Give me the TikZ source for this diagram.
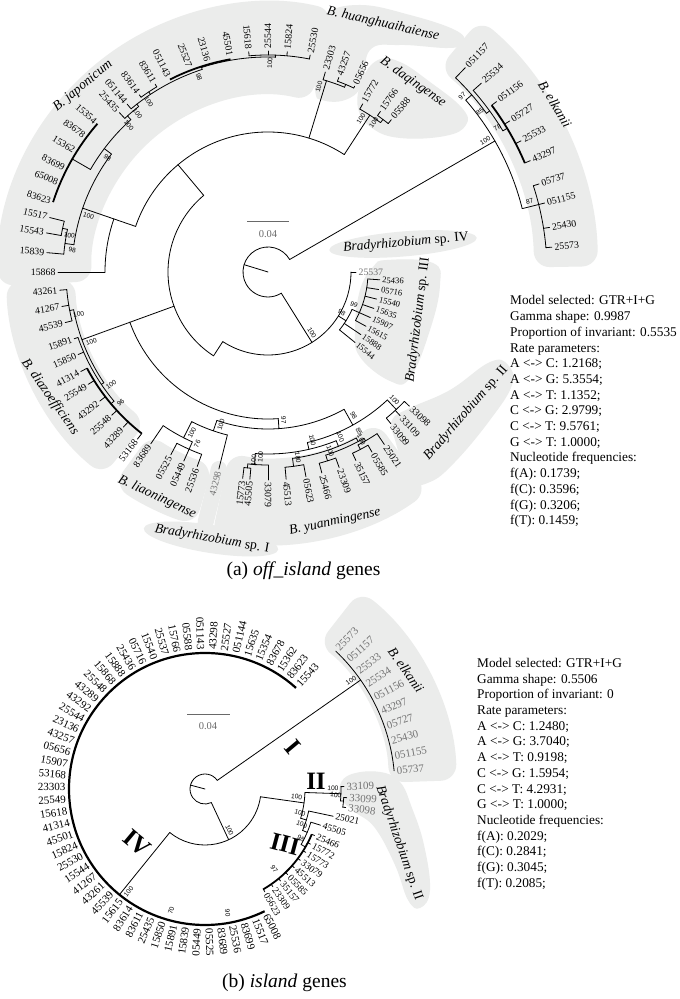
\documentclass[tikz,border=0pt]{standalone}
\usepackage{fontspec}
\setmainfont{Liberation Serif}
\newfontfamily\bootfont{Liberation Sans}
\definecolor{cladeGrey}{RGB}{235,236,235}
\definecolor{tipGrey}{RGB}{115,115,115}
\definecolor{barGrey}{RGB}{105,105,105}
\tikzset{
  branch/.style={line width=0.8pt, line cap=round},
  clump/.style={line width=1.8pt},
  trunk/.style={line width=2.2pt},
  leaf/.style={inner sep=0.4pt, font=\fontsize{9.8}{10}\selectfont},
  leafs/.style={leaf, font=\fontsize{8.6}{9}\selectfont},
  leafb/.style={leaf, font=\fontsize{11}{12}\selectfont},
  leafc/.style={leaf, font=\fontsize{9.6}{10}\selectfont},
  greyleaf/.style={leaf, text=tipGrey},
  greyleafb/.style={leafb, text=tipGrey},
  boot/.style={inner sep=0pt, font=\bootfont\fontsize{6.6}{7}\selectfont},
  clade/.style={inner sep=0pt, font=\fontsize{13.6}{14}\selectfont},
  roman/.style={inner sep=0pt, font=\fontsize{25}{25}\selectfont\bfseries},
  bubble/.style={fill=cladeGrey},
  neck/.style={draw=cladeGrey, line cap=round},
  scalebar/.style={draw=barGrey, line width=1pt},
  barlabel/.style={text=barGrey, inner sep=0pt, font=\fontsize{10.5}{11}\selectfont},
  info/.style={align=left, anchor=north west, inner sep=0pt, font=\fontsize{13.3}{15.7}\selectfont},
  caption/.style={anchor=base, inner sep=0pt, font=\fontsize{19.5}{20}\selectfont}
}
% radial branch, arc, tip label, leaf, bootstrap value, shaded band
\newcommand{\rad}[3]{\draw[branch] (#1:#2pt) -- (#1:#3pt);}
\newcommand{\arcr}[4][branch]{\draw[#1] (#2:#4pt) arc[start angle=#2, end angle=#3, radius=#4pt];}
\newcommand{\lab}[4][leaf]{%
  \pgfmathsetmacro\rr{#3+2}%
  \pgfmathtruncatemacro\flip{cos(#2)<0}%
  \ifnum\flip=1
    \node[#1, anchor=east, rotate=#2-180] (\pre#4) at (#2:\rr pt) {#4};%
  \else
    \node[#1, anchor=west, rotate=#2] (\pre#4) at (#2:\rr pt) {#4};%
  \fi}
\newcommand{\tip}[5][leaf]{\rad{#2}{#3}{#4}\lab[#1]{#2}{#4}{#5}}
\newcommand{\bs}[3]{%
  \pgfmathsetmacro\ba{#1+320/#2}%
  \pgfmathsetmacro\rr{#2-8}%
  \pgfmathtruncatemacro\flip{cos(#1)<0}%
  \pgfmathtruncatemacro\bn{#1}%
  \ifnum\flip=1
    \node[boot, rotate=#1-180] (\pre b\bn-#3) at (\ba:\rr pt) {#3};%
  \else
    \node[boot, rotate=#1] (\pre b\bn-#3) at (\ba:\rr pt) {#3};%
  \fi}
\newcommand{\band}[4]{\fill[bubble, rounded corners=16pt] (#1:#3pt) arc[start angle=#1, end angle=#2, radius=#3pt] -- (#2:#4pt) arc[start angle=#2, end angle=#1, radius=#4pt] -- cycle;}

\begin{document}
\begin{tikzpicture}[x=1pt, y=1pt]
\useasboundingbox (0,0) rectangle (680,999);
\fill[white] (0,0) rectangle (680,999);

% ---------- shading, tree (a)
\begin{scope}[shift={(268,727)}]
  \band{76}{183}{176}{270}
  \band{1}{50}{266}{330}
  \band{182}{231}{193}{262}
  \band{234}{254}{200}{263}
  \band{258}{306}{185}{272}
  \draw[neck, line width=16pt] (256:203pt) -- (256:258pt);
\end{scope}
\fill[bubble] plot[smooth cycle, tension=0.7] coordinates {(315,909) (313,954) (325,984) (360,994) (410,984) (455,969) (464,957) (450,951) (400,954) (370,949) (362,914) (345,899) (322,899)};
\fill[bubble] plot[smooth cycle, tension=0.7] coordinates {(358,891) (362,919) (378,939) (400,937) (430,917) (462,891) (466,874) (445,863) (400,861) (372,871)};
\fill[bubble] plot[smooth cycle, tension=0.7] coordinates {(373,732) (387,739) (433,736) (440,714) (430,669) (410,621) (390,618) (360,642) (355,669) (360,709)};
\fill[bubble] plot[smooth cycle, tension=0.7] coordinates {(395,559) (392,579) (410,591) (450,609) (490,637) (508,634) (512,614) (490,579) (455,537) (430,517) (410,519)};
\fill[bubble, rotate around={4.7:(403,755)}] (403,755) ellipse[x radius=74, y radius=12.5];
\fill[bubble, rotate around={-9:(211,460)}] (211,460) ellipse[x radius=68, y radius=14];

% ---------- shading, tree (b)
\begin{scope}[shift={(205,210)}]
  \band{2}{52}{184}{252}
\end{scope}
\fill[bubble] plot[smooth cycle, tension=0.7] coordinates {(340,214) (352,225) (380,227) (400,217) (412,191) (424,154) (430,109) (420,91) (408,99) (395,134) (375,171) (355,187) (342,199)};

% ---------- tree (a)
\begin{scope}[shift={(268,727)}]
\def\pre{a}
\rad{163}{0}{25}
\arcr{30}{302}{25}
% B. elkanii
\rad{30}{25}{262} \bs{30}{262}{100}
\arcr{14}{41}{262}
\rad{41}{262}{270} \bs{41}{270}{97}
\arcr{36}{46}{270}
\tip{46}{270}{284}{051157}
\rad{36}{270}{274} \bs{36}{274}{85}
\arcr{31}{41.5}{274}
\tip{41.5}{274}{285}{25534}
\rad{31}{274}{279} \bs{31}{279}{78}
\arcr[clump]{23}{36.7}{279}
\foreach \a/\t in {36.7/051156,32/05727,27.4/25533,23/43297}{\tip{\a}{279}{285}{\t}}
\rad{14}{262}{279} \bs{14}{279}{87}
\arcr{5}{18}{279}
\foreach \a/\t in {18/05737,14/051155,9/25430,5/25573}{\tip{\a}{279}{285}{\t}}
% sp. IV and sp. III
\rad{302}{25}{83} \bs{302}{83}{100}
\arcr{237}{360}{83}
\tip[greyleaf]{0}{83}{88}{25537}
\rad{328}{83}{92} \bs{328}{92}{98}
\arcr{321}{336}{92}
\tip[leafs]{321}{92}{112}{15544}
\tip[leafs]{326}{92}{112}{15888}
\rad{336}{92}{100} \bs{336}{100}{99}
\arcr{331}{356}{100}
\foreach \a/\t in {356/25436,351/05716,346/15540,341/15635,336/15907,331/15615}{\tip[leafs]{\a}{100}{112}{\t}}
% upper group
\rad{237}{83}{100}
\arcr{130}{237}{100}
\rad{130}{100}{140}
\arcr{57}{161}{140}
% B. daqingense
\rad{57}{140}{187} \bs{57}{187}{100}
\arcr{53}{60.6}{187}
\tip{60.6}{187}{193}{15772}
\rad{53}{187}{191} \bs{53}{191}{100}
\arcr{51}{55}{191}
\tip{55}{191}{196}{15766}
\tip{51}{191}{196}{05588}
% B. huanghuaihaiense
\rad{73}{140}{200} \bs{73}{200}{100}
\arcr{67.5}{74}{200}
\tip{74}{200}{208}{23303}
\rad{67.5}{200}{203}
\arcr{65}{70}{203}
\tip{70}{203}{207}{43257}
\tip{65}{203}{205}{05656}
% B. japonicum
\rad{161}{140}{163}
\arcr{161}{180}{163}
\tip{180}{163}{210}{15868}
\rad{161}{163}{196} \bs{161}{196}{100}
\arcr{143}{172}{196}
\rad{172}{196}{205} \bs{172}{205}{98}
\arcr{168}{175}{205}
\tip{175}{205}{222}{15839}
\rad{168}{205}{210} \bs{168}{210}{100}
\arcr{166}{170}{210}
\tip{166}{210}{225}{15517}
\tip{170}{210}{225}{15543}
\rad{143}{196}{205} \bs{143}{205}{98}
\arcr{132}{150}{205}
\rad{150}{205}{226}
\arcr[clump]{139}{162}{226}
\foreach \a/\t in {139/15354,143.5/83678,148/15362,153/83699,157/65008,162/83623}{\lab{\a}{226}{\t}}
\rad{132}{205}{210} \bs{132}{210}{100}
\arcr{128}{133}{210}
\tip{133}{210}{218}{25435}
\rad{128}{210}{213} \bs{128}{213}{100}
\arcr{108}{130}{213}
\tip{130}{213}{219}{051144}
\rad{123.5}{213}{216} \bs{123.5}{216}{100}
\arcr{121}{126}{216}
\tip{126}{216}{219}{83614}
\tip{121}{216}{219}{83611}
\rad{108}{213}{215} \bs{108}{215}{98}
\arcr{88}{108}{215}
\rad{108}{215}{216}
\arcr[clump]{100}{117}{216}
\foreach \a/\t in {117/051143,111/25527,106/23136,100/45501}{\lab{\a}{217}{\t}}
\rad{88}{215}{217} \bs{88}{217}{100}
\arcr{79}{95}{217}
\foreach \a/\t in {95/15618,90/25544,85/15824,79/25530}{\tip{\a}{217}{221}{\t}}
% lower group
\rad{200}{100}{147}
\arcr{200}{274}{147}
% B. diazoefficiens
\rad{200}{147}{198} \bs{200}{198}{100}
\arcr{191}{214}{198}
\rad{191}{198}{202} \bs{191}{202}{100}
\arcr{185}{194}{202}
\foreach \a/\t in {185/43261,189.5/41267,194/45539}{\tip{\a}{202}{209}{\t}}
\rad{214}{198}{201} \bs{214}{201}{100}
\arcr{199}{220}{201}
\tip{199}{201}{205}{15891}
\tip{203.5}{201}{207}{15850}
\rad{220}{201}{205} \bs{220}{205}{96}
\arcr[clump]{208}{232}{205}
\foreach \a/\t in {208/41314,212/25549,217.5/43292,222.5/25548,227/43289,232/53168}{\tip{\a}{205}{212}{\t}}
% B. liaoningense, sp. I, B. yuanmingense, sp. II
\rad{274}{147}{157} \bs{274}{157}{97}
\arcr{251}{299}{157}
\rad{251}{157}{168} \bs{251}{168}{100}
\arcr{243}{256}{168}
\rad{243}{168}{186} \bs{243}{186}{100}
\arcr{235.7}{246}{186}
\tip{235.7}{186}{208}{83689}
\rad{246}{186}{194} \bs{246}{194}{76}
\arcr{242}{250}{194}
\foreach \a/\t in {242/05525,246/05449,250/25536}{\tip{\a}{194}{207}{\t}}
\tip[greyleaf]{256}{168}{203}{43298}
\rad{299}{157}{175} \bs{299}{175}{98}
\arcr{283}{313}{175}
\rad{313}{175}{188} \bs{313}{188}{100}
\arcr{309}{316.5}{188}
\foreach \a/\t in {316.5/33098,312.6/33109,309/33099}{\tip{\a}{188}{195}{\t}}
\rad{283}{175}{182} \bs{283}{182}{100}
\arcr{266}{292}{182}
\rad{266}{182}{193} \bs{266}{193}{100}
\arcr{264}{270}{193}
\rad{264}{193}{197} \bs{264}{197}{100}
\arcr{263}{265}{197}
\tip{263}{197}{208}{15773}
\tip{265}{197}{208}{45505}
\tip{270}{193}{208}{33079}
\rad{292}{182}{188} \bs{292}{188}{100}
\arcr{277.5}{298}{188}
\rad{277.5}{188}{196} \bs{277.5}{196}{100}
\arcr{275}{280.5}{196}
\tip{275}{196}{208}{45513}
\tip{280.5}{196}{208}{05623}
\rad{298}{188}{192} \bs{298}{192}{85}
\arcr{287.5}{300}{192}
\rad{287.5}{192}{198} \bs{287.5}{198}{100}
\arcr{285}{290}{198}
\tip{285}{198}{208}{25466}
\tip{290}{198}{208}{23309}
\rad{300}{192}{195}
\arcr{297.5}{304}{195}
\rad{297.5}{195}{200} \bs{297.5}{200}{100}
\arcr{295}{300}{200}
\tip{295}{200}{208}{35157}
\tip{300}{200}{208}{05585}
\tip{304}{195}{208}{25021}
\end{scope}

% ---------- tree (b)
\begin{scope}[shift={(205,210)}]
\def\pre{b}
\rad{165}{0}{15}
\arcr{35}{295}{15}
% I
\rad{35}{15}{190} \bs{35}{190}{100}
\arcr{5.5}{46.5}{190}
\foreach \t [count=\i] in {25573,051157,25533,25534,051156,43297,05727,25430,051155,05737}{\pgfmathsetmacro\a{46.5-(\i-1)*4.56}\lab[greyleafb]{\a}{190}{\t}}
% IV
\rad{295}{15}{56} \bs{295}{56}{100}
\arcr{231}{352}{56}
\rad{231}{56}{136} \bs{231}{136}{100}
\arcr[trunk]{48}{296}{136}
\foreach \t [count=\i] in {15543,83623,15362,83678,15354,15635,051144,25527,43298,051143,05588,15766,25537,15540,05716,25436,15888,15868,25548,43289,43292,25544,23136,43257,05656,15907,53168,23303,25549,15618,41314,45501,15824,25530,15544,41267,43261,45539,15615,83614,83611,25435,15850,15891,15839,05449,05525,83689,25536,83699,15517,65008}{\pgfmathsetmacro\a{48+(\i-1)*4.863}\lab[leafb]{\a}{137}{\t}}
\bs{252}{134}{70}
\bs{278}{134}{90}
% II
\rad{352}{56}{100} \bs{352}{100}{100}
\arcr{343}{358}{100}
\rad{358}{100}{136} \bs{358}{136}{100}
\arcr{-5}{1}{136}
\tip[greyleafb]{1}{136}{139}{33109}
\rad{-5}{136}{139} \bs{-5}{139}{100}
\arcr{-7.5}{-3.5}{139}
\tip[greyleafb]{-3.5}{139}{142}{33099}
\tip[greyleafb]{-7.5}{139}{142}{33098}
% III
\rad{343}{100}{106} \bs{343}{106}{100}
\arcr{337}{348}{106}
\tip[leafc]{348}{106}{131}{25021}
\rad{337}{106}{111} \bs{337}{111}{100}
\arcr{330}{342.6}{111}
\tip[leafc]{342.6}{111}{121}{45505}
\rad{330}{111}{116} \bs{330}{116}{98}
\arcr[clump]{300}{337}{116}
\foreach \t [count=\i] in {25466,15772,15773,33079,45513,05585,35157,23309,05623}{\pgfmathsetmacro\a{337-(\i-1)*4.6}\tip[leafc]{\a}{116}{119}{\t}}
\bs{308}{114}{97}
\end{scope}

% ---------- scale bars
\draw[scalebar] (247,777) -- (289,777);
\node[barlabel] (sca) at (268,765) {0.04};
\draw[scalebar] (187,284) -- (230,284);
\node[barlabel] (scb) at (208,273) {0.04};

% ---------- clade names
\node[clade, rotate=39.6] (cjap) at (83,913) {\textit{B. japonicum}};
\node[clade, rotate=-13] (chua) at (383,975) {\textit{B. huanghuaihaiense}};
\node[clade, rotate=-35] (cdaq) at (413,917) {\textit{B. daqingense}};
\node[clade, rotate=-59] (celk) at (555,895) {\textit{B. elkanii}};
\node[clade, rotate=5] (csp4) at (406,756) {\textit{Bradyrhizobium} sp. IV};
\node[clade, rotate=83] (csp3) at (418,679) {\textit{Bradyrhizobium} sp. III};
\node[clade, rotate=49] (csp2) at (466,586) {\textit{Bradyrhizobium} sp. II};
\node[clade, rotate=-55] (cdia) at (50,602) {\textit{B. diazoefficiens}};
\node[clade, rotate=-25] (clia) at (157,502) {\textit{B. liaoningense}};
\node[clade, rotate=-10] (csp1) at (212,460) {\textit{Bradyrhizobium} sp. I};
\node[clade, rotate=12] (cyua) at (335,477) {\textit{B. yuanmingense}};
\node[clade, rotate=-55] (belk) at (406,329) {\textit{B. elkanii}};
\node[clade, rotate=-71] (bsp2) at (399,156) {\textit{Bradyrhizobium} sp. II};
\node[roman, rotate=-50] (rI) at (293,252) {I};
\node[roman] (rII) at (316,218) {II};
\node[roman, rotate=-15] (rIII) at (285,155) {III};
\node[roman, rotate=-40] (rIV) at (137,156) {IV};

% ---------- model summaries
\node[info] (mdla) at (510,703.5) {Model selected: GTR+I+G\\Gamma shape: 0.9987\\Proportion of invariant: 0.5535\\Rate parameters:\\A <-> C: 1.2168;\\A <-> G: 5.3554;\\A <-> T: 1.1352;\\C <-> G: 2.9799;\\C <-> T: 9.5761;\\G <-> T: 1.0000;\\Nucleotide frequencies:\\f(A): 0.1739;\\f(C): 0.3596;\\f(G): 0.3206;\\f(T): 0.1459;};
\node[info] (mdlb) at (477,341) {Model selected: GTR+I+G\\Gamma shape: 0.5506\\Proportion of invariant: 0\\Rate parameters:\\A <-> C: 1.2480;\\A <-> G: 3.7040;\\A <-> T: 0.9198;\\C <-> G: 1.5954;\\C <-> T: 4.2931;\\G <-> T: 1.0000;\\Nucleotide frequencies:\\f(A): 0.2029;\\f(C): 0.2841;\\f(G): 0.3045;\\f(T): 0.2085;};

% ---------- captions
\node[caption] (capa) at (303.5,423) {(a) \textit{off\_island} genes};
\node[caption] (capb) at (284.5,11.5) {(b) \textit{island} genes};
\end{tikzpicture}
\end{document}
